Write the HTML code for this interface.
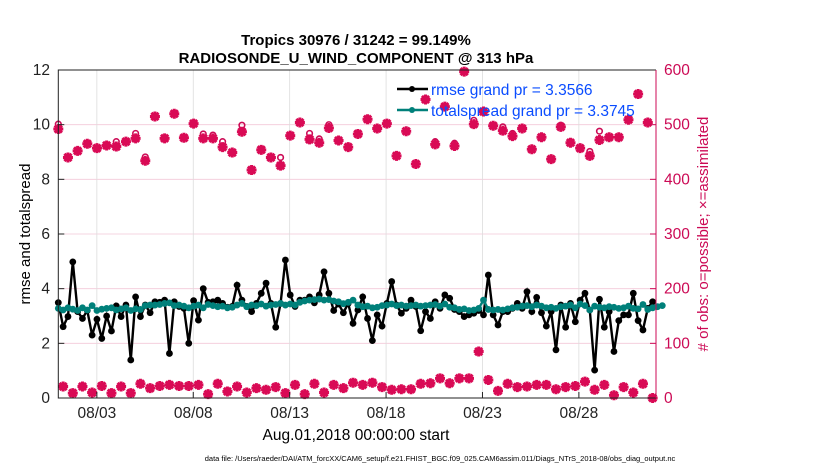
<!DOCTYPE html>
<html><head><meta charset="utf-8"><style>
body{margin:0;background:#fff;}
svg text{font-family:"Liberation Sans",Arial,sans-serif;}
</style></head><body>
<svg id="chart" width="830" height="470" viewBox="0 0 830 470">
<g id="grid"></g><g id="marks"></g><g id="axes"></g>
<text x="356" y="45" text-anchor="middle" font-size="15" font-weight="bold">Tropics 30976 / 31242 = 99.149%</text>
<text x="356" y="63" text-anchor="middle" font-size="15" font-weight="bold">RADIOSONDE_U_WIND_COMPONENT @ 313 hPa</text>
<text transform="translate(30,234) rotate(-90)" text-anchor="middle" font-size="15">rmse and totalspread</text>
<text transform="translate(708,234) rotate(-90)" text-anchor="middle" font-size="15" fill="#cc0a55"># of obs: o=possible; ×=assimilated</text>
<text x="356" y="440" text-anchor="middle" font-size="15.5">Aug.01,2018 00:00:00 start</text>
<text x="440" y="461" text-anchor="middle" font-size="7.5">data file: /Users/raeder/DAI/ATM_forcXX/CAM6_setup/f.e21.FHIST_BGC.f09_025.CAM6assim.011/Diags_NTrS_2018-08/obs_diag_output.nc</text>
<g>
<line x1="397" y1="89" x2="428" y2="89" stroke="#000" stroke-width="2.5"/><circle cx="412" cy="89" r="3" fill="#000"/>
<text x="431" y="95" font-size="15.5" fill="#0a4cff">rmse grand pr = 3.3566</text>
<line x1="397" y1="110" x2="428" y2="110" stroke="#00807a" stroke-width="2.5"/><circle cx="412" cy="110" r="3" fill="#00807a"/>
<text x="431" y="116" font-size="15.5" fill="#0a4cff">totalspread grand pr = 3.3745</text>
</g>
</svg>
<script>
const xTickLabels=["08/03","08/08","08/13","08/18","08/23","08/28"];
const xTickDays=[2,7,12,17,22,27];
const yTicks=[0,2,4,6,8,10,12];
const rTicks=[0,100,200,300,400,500,600];
const rmse=[3.49,2.61,2.98,4.98,3.16,2.91,3.2,2.3,2.88,2.18,3.0,2.45,3.37,2.98,3.4,1.39,3.7,2.98,3.4,3.12,3.52,3.5,3.58,1.63,3.52,3.35,3.28,2.0,3.56,2.85,4.0,3.5,
3.52,3.58,3.46,3.32,3.35,4.13,3.58,3.35,3.16,3.46,3.83,4.2,3.46,2.59,3.46,5.05,3.77,3.35,3.58,3.58,3.7,3.48,3.77,4.62,3.83,3.2,3.44,3.12,3.46,2.73,
3.22,3.7,2.91,2.1,3.04,2.63,3.46,4.26,3.4,3.1,3.28,3.58,3.35,2.46,3.16,2.91,3.52,3.28,3.77,3.65,3.24,3.16,2.98,3.04,3.1,3.2,3.04,4.5,3.04,2.67,3.16,3.16,
3.28,3.46,3.28,3.89,3.16,3.68,3.12,2.63,3.16,1.76,3.4,2.59,3.46,2.79,3.58,3.83,3.22,1.02,3.61,2.59,3.16,1.7,2.83,3.04,3.04,3.83,2.83,2.49,3.28,3.52];
const spread=[3.28,3.22,3.3,3.25,3.2,3.3,3.22,3.38,3.2,3.25,3.28,3.3,3.22,3.26,3.3,3.2,3.26,3.24,3.38,3.4,3.4,3.42,3.46,3.48,3.38,3.4,3.36,3.3,3.36,3.4,3.3,3.42,
3.38,3.34,3.36,3.3,3.32,3.4,3.46,3.34,3.4,3.38,3.44,3.36,3.4,3.42,3.46,3.4,3.44,3.4,3.5,3.55,3.58,3.6,3.62,3.58,3.6,3.55,3.52,3.45,3.5,3.58,
3.4,3.34,3.36,3.3,3.32,3.38,3.4,3.44,3.38,3.4,3.36,3.38,3.4,3.36,3.38,3.4,3.42,3.36,3.44,3.32,3.3,3.24,3.26,3.2,3.22,3.28,3.58,3.24,3.22,3.24,3.22,3.26,
3.3,3.32,3.36,3.38,3.34,3.4,3.36,3.3,3.32,3.28,3.34,3.36,3.4,3.3,3.44,3.38,3.22,3.36,3.32,3.3,3.34,3.32,3.28,3.3,3.36,3.28,3.26,3.42,3.24,3.3,3.34,3.38];
const assim=[492,21,440,9,452,21,465,10,457,22,462,9,460,21,469,9,475,26,434,18,515,22,475,24,520,22,476,22,502,24,475,7,
475,26,459,12,449,21,487,10,417,18,454,15,440,20,425,9,480,24,504,7,473,26,467,10,494,24,471,18,459,28,
483,24,510,28,493,20,502,15,443,16,488,16,428,26,546,27,464,36,533,27,461,36,597,36,501,85,524,33,498,13,489,26,
479,20,493,21,455,24,477,24,437,16,496,20,467,22,457,30,443,15,472,24,477,5,477,20,509,10,556,26,504,0];
const possible=[501,21,440,9,452,21,465,10,457,22,462,9,469,21,469,9,484,26,441,18,515,22,475,24,520,22,476,22,502,24,483,7,
481,26,469,12,449,21,499,10,417,18,454,15,442,20,440,9,480,24,504,7,484,26,474,10,500,24,471,18,459,28,
483,24,510,28,493,20,502,15,443,16,488,16,428,26,546,27,469,36,533,27,466,36,597,36,508,85,524,33,498,13,496,26,
484,20,493,21,455,24,477,24,437,16,499,20,467,22,457,30,451,15,488,24,477,5,477,20,509,10,556,26,504,0];

const L=58.3,R=656,T=70,B=398,NS="http://www.w3.org/2000/svg";
function xs(i){return L+i*(R-L)/123.7;}
function xd(d){return L+d*(R-L)/31;}
function yl(v){return B-v*(B-T)/12;}
function yr(n){return B-n*(B-T)/600;}
function mk(tag,attrs,parent){const e=document.createElementNS(NS,tag);for(const k in attrs)e.setAttribute(k,attrs[k]);parent.appendChild(e);return e;}
const grid=document.getElementById('grid'),marks=document.getElementById('marks'),axes=document.getElementById('axes');
rTicks.forEach(n=>{const l=mk('line',{x1:L,x2:R,y1:yr(n),y2:yr(n),stroke:'#f3c9d8','stroke-width':0.8},grid);

});
xTickDays.forEach((d,k)=>{const l=mk('line',{x1:xd(d),x2:xd(d),y1:T,y2:B,stroke:'#dcdcdc','stroke-width':0.8},grid);


const t=mk('line',{x1:xd(d),x2:xd(d),y1:B,y2:B-6,stroke:'#222'},axes);


const tx=mk('text',{x:xd(d),y:418,'text-anchor':'middle','font-size':15.5,fill:'#222'},axes);tx.textContent=xTickLabels[k];

});
yTicks.forEach(v=>{const tx=mk('text',{x:50,y:yl(v)+5,'text-anchor':'end','font-size':15.5,fill:'#222'},axes);tx.textContent=v;


const t=mk('line',{x1:L,x2:L+6,y1:yl(v),y2:yl(v),stroke:'#222'},axes);

});
rTicks.forEach(n=>{const tx=mk('text',{x:664,y:yr(n)+5,'font-size':15.5,fill:'#cc0a55'},axes);tx.textContent=n;


const t=mk('line',{x1:R-6,x2:R,y1:yr(n),y2:yr(n),stroke:'#cc0a55'},axes);

});
const ax=mk('path',{d:`M${R},${T}H${L}V${B}H${R}`,fill:'none',stroke:'#222','stroke-width':1},axes);


const ra=mk('path',{d:`M${R},${T}V${B}`,fill:'none',stroke:'#cc0a55','stroke-width':1},axes);


possible.forEach((n,i)=>{if(Math.abs(n-assim[i])>2){const c=mk('circle',{cx:xs(i),cy:yr(n),r:2.8,fill:'none',stroke:'#cc0a55','stroke-width':1.6},marks);

}});
assim.forEach((n,i)=>{const x=xs(i),y=yr(n);const s=mk('path',{d:`M${x-5},${y}H${x+5}M${x},${y-5}V${y+5}M${x-3.6},${y-3.6}L${x+3.6},${y+3.6}M${x-3.6},${y+3.6}L${x+3.6},${y-3.6}`,stroke:'#d90a55','stroke-width':3,fill:'none'},marks);

});
function series(vals,color,name){const p=mk('polyline',{points:vals.map((v,i)=>xs(i)+','+yl(v)).join(' '),fill:'none',stroke:color,'stroke-width':2.4},marks);


vals.forEach((v,i)=>{const c=mk('circle',{cx:xs(i),cy:yl(v),r:3.4,fill:color},marks);

});}
series(rmse,'#000','rmse');
series(spread,'#00807a','totalspread');
</script>
</body></html>
